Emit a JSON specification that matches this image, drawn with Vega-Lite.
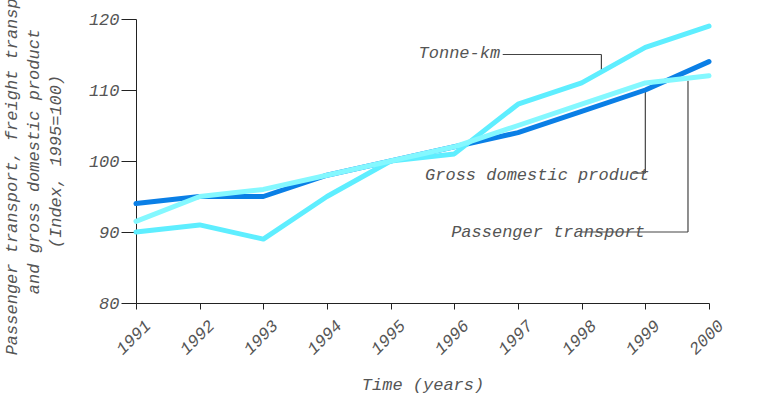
{
  "$schema": "https://vega.github.io/schema/vega-lite/v6.json",
  "autosize": "none",
  "width": 573,
  "height": 284,
  "padding": {"left": 136, "top": 19, "right": 59, "bottom": 93},
  "background": "white",
  "config": {
    "view": {"stroke": null},
    "font": "Liberation Mono",
    "axis": {
      "labelFont": "Liberation Mono",
      "labelFontStyle": "italic",
      "labelFontSize": 17,
      "labelColor": "#555555",
      "titleFont": "Liberation Mono",
      "titleFontStyle": "italic",
      "titleFontWeight": "normal",
      "titleFontSize": 17,
      "titleColor": "#555555",
      "domainColor": "#222222",
      "tickColor": "#222222",
      "grid": false
    }
  },
  "datasets": {
    "series": [
      {"year": 1991, "series": "GDP", "value": 94},
      {"year": 1992, "series": "GDP", "value": 95},
      {"year": 1993, "series": "GDP", "value": 95},
      {"year": 1994, "series": "GDP", "value": 98},
      {"year": 1995, "series": "GDP", "value": 100},
      {"year": 1996, "series": "GDP", "value": 102},
      {"year": 1997, "series": "GDP", "value": 104},
      {"year": 1998, "series": "GDP", "value": 107},
      {"year": 1999, "series": "GDP", "value": 110},
      {"year": 2000, "series": "GDP", "value": 114},
      {"year": 1991, "series": "Tonne-km", "value": 90},
      {"year": 1992, "series": "Tonne-km", "value": 91},
      {"year": 1993, "series": "Tonne-km", "value": 89},
      {"year": 1994, "series": "Tonne-km", "value": 95},
      {"year": 1995, "series": "Tonne-km", "value": 100},
      {"year": 1996, "series": "Tonne-km", "value": 101},
      {"year": 1997, "series": "Tonne-km", "value": 108},
      {"year": 1998, "series": "Tonne-km", "value": 111},
      {"year": 1999, "series": "Tonne-km", "value": 116},
      {"year": 2000, "series": "Tonne-km", "value": 119},
      {"year": 1991, "series": "Passenger", "value": 91.5},
      {"year": 1992, "series": "Passenger", "value": 95},
      {"year": 1993, "series": "Passenger", "value": 96},
      {"year": 1994, "series": "Passenger", "value": 98},
      {"year": 1995, "series": "Passenger", "value": 100},
      {"year": 1996, "series": "Passenger", "value": 102},
      {"year": 1997, "series": "Passenger", "value": 105},
      {"year": 1998, "series": "Passenger", "value": 108},
      {"year": 1999, "series": "Passenger", "value": 111},
      {"year": 2000, "series": "Passenger", "value": 112}
    ],
    "leaders": [
      {"id": "t", "x": 1996.76, "y": 115.0, "x2": 1998.31, "y2": 115.0},
      {"id": "t", "x": 1998.31, "y": 115.0, "x2": 1998.31, "y2": 112.8},
      {"id": "g", "x": 1999.0, "y": 110.0, "x2": 1999.0, "y2": 98.3},
      {"id": "g", "x": 1998.8, "y": 98.3, "x2": 1999.0, "y2": 98.3},
      {"id": "p", "x": 1999.67, "y": 111.3, "x2": 1999.67, "y2": 90.0},
      {"id": "p", "x": 1998.0, "y": 90.0, "x2": 1999.67, "y2": 90.0}
    ],
    "labelsRight": [
      {"text": "Tonne-km", "x": 1996.72, "y": 115.2}
    ],
    "labelsLeft": [
      {"text": "Gross domestic product", "x": 1995.54, "y": 98.0},
      {"text": "Passenger transport", "x": 1995.95, "y": 90.0}
    ]
  },
  "layer": [
    {
      "data": {"name": "leaders"},
      "mark": {"type": "rule", "color": "#444444", "strokeWidth": 1.2},
      "encoding": {
        "x": {"field": "x", "type": "quantitative", "scale": {"domain": [1991, 2000], "nice": false, "zero": false}},
        "y": {"field": "y", "type": "quantitative", "scale": {"domain": [80, 120], "nice": false, "zero": false}},
        "x2": {"field": "x2"},
        "y2": {"field": "y2"}
      }
    },
    {
      "data": {"name": "series"},
      "mark": {"type": "line", "strokeWidth": 5, "strokeCap": "round", "strokeJoin": "round"},
      "encoding": {
        "x": {
          "field": "year", "type": "quantitative",
          "scale": {"domain": [1991, 2000], "nice": false, "zero": false},
          "axis": {
            "title": "Time (years)",
            "values": [1991, 1992, 1993, 1994, 1995, 1996, 1997, 1998, 1999, 2000],
            "format": "d",
            "labelAngle": -45,
            "labelAlign": "right",
            "labelBaseline": "top",
            "labelPadding": 8,
            "labelOffset": 6,
            "tickSize": 6,
            "titlePadding": 19,
            "labelOverlap": false
          }
        },
        "y": {
          "field": "value", "type": "quantitative",
          "scale": {"domain": [80, 120], "nice": false, "zero": false},
          "axis": {
            "title": ["Passenger transport, freight transport", "and gross domestic product", "(Index, 1995=100)"],
            "values": [80, 90, 100, 110, 120],
            "tickSize": 15,
            "labelPadding": 2,
            "titlePadding": 24,
            "titleLineHeight": 22
          }
        },
        "color": {
          "field": "series", "type": "nominal",
          "scale": {"domain": ["GDP", "Tonne-km", "Passenger"], "range": ["#0a7fe6", "#5eeeff", "#84f8ff"]},
          "legend": null
        },
        "order": {"field": "year"},
        "detail": {"field": "series"}
      }
    },
    {
      "data": {"name": "labelsRight"},
      "mark": {"type": "text", "font": "Liberation Mono", "fontStyle": "italic", "fontSize": 17, "color": "#555555", "baseline": "middle", "align": "right"},
      "encoding": {
        "x": {"field": "x", "type": "quantitative"},
        "y": {"field": "y", "type": "quantitative"},
        "text": {"field": "text"}
      }
    },
    {
      "data": {"name": "labelsLeft"},
      "mark": {"type": "text", "font": "Liberation Mono", "fontStyle": "italic", "fontSize": 17, "color": "#555555", "baseline": "middle", "align": "left"},
      "encoding": {
        "x": {"field": "x", "type": "quantitative"},
        "y": {"field": "y", "type": "quantitative"},
        "text": {"field": "text"}
      }
    }
  ]
}
